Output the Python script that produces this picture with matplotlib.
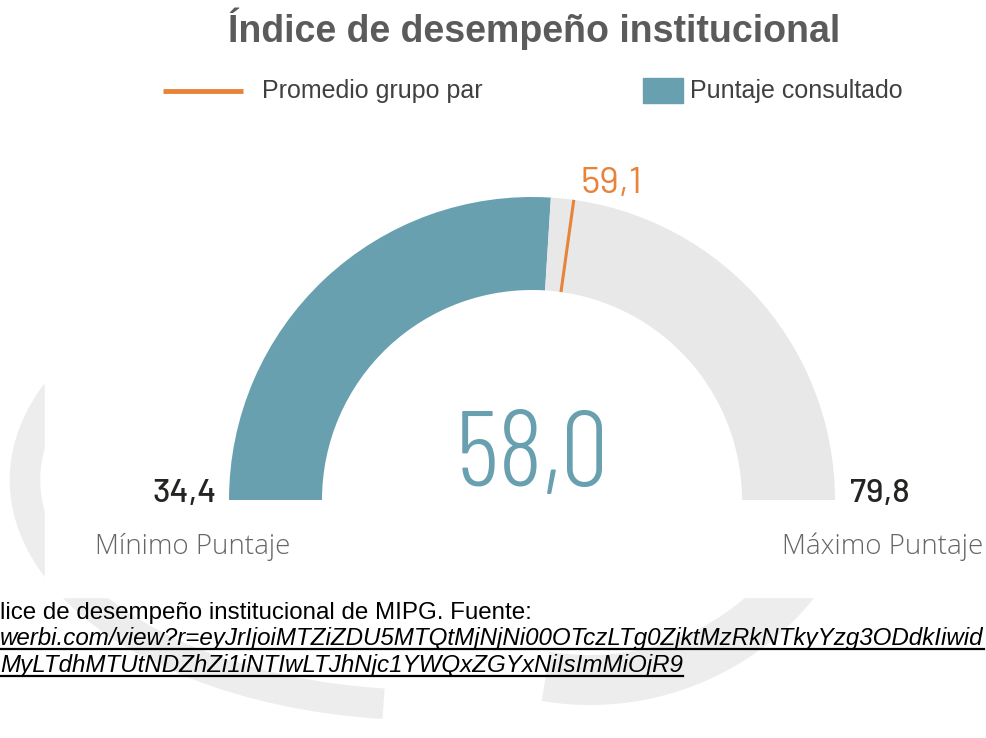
import numpy as np
import matplotlib
matplotlib.use("Agg")
import matplotlib.pyplot as plt
from matplotlib import patches

# data
title = "Índice de desempeño institucional"
legend_labels = ["Promedio grupo par", "Puntaje consultado"]
min_score = 34.4
max_score = 79.8
score = 58.0
peer_avg = 59.1
min_label = "Mínimo Puntaje"
max_label = "Máximo Puntaje"
caption_lines = [
    "lice de desempeño institucional de MIPG. Fuente:",
    "werbi.com/view?r=eyJrIjoiMTZiZDU5MTQtMjNjNi00OTczLTg0ZjktMzRkNTkyYzg3ODdkIiwid",
    "MyLTdhMTUtNDZhZi1iNTIwLTJhNjc1YWQxZGYxNiIsImMiOjR9",
]

def fmt(v):
    return f"{v:.1f}".replace(".", ",")

teal = "#68A0B0"
orange = "#E8833A"
track = "#E8E8E8"
wm = "#EDEDED"

W, H = 987, 738
fig = plt.figure(figsize=(W / 100, H / 100), dpi=100)
ax = fig.add_axes([0, 0, 1, 1])
ax.set_xlim(0, W)
ax.set_ylim(H, 0)
ax.axis("off")

# faint watermark behind the page, partly hidden by the chart image
ax.add_patch(patches.Arc((427, 480), 804, 450, theta1=101, theta2=200,
                         color=wm, lw=22, zorder=0))
ax.add_patch(patches.Arc((590, 425), 520, 510, theta1=15, theta2=100,
                         color=wm, lw=36, zorder=0))
ax.add_patch(patches.Rectangle((45, 0), W - 45, 597, color="white", zorder=1))

# gauge
cx, cy = 532, 500
r_out, r_in = 303, 210

def ang(v):
    return 180 + (v - min_score) / (max_score - min_score) * 180

a_val = ang(score)
ax.add_patch(patches.Wedge((cx, cy), r_out, 180, a_val, width=r_out - r_in,
                           color=teal, lw=0, zorder=2))
ax.add_patch(patches.Wedge((cx, cy), r_out, a_val, 360, width=r_out - r_in,
                           color=track, lw=0, zorder=2))
a_avg = np.radians(ang(peer_avg))
ax.plot([cx + r_in * np.cos(a_avg), cx + r_out * np.cos(a_avg)],
        [cy + r_in * np.sin(a_avg), cy + r_out * np.sin(a_avg)],
        color=orange, lw=2.2, zorder=3, solid_capstyle="butt")

big_font = ["Barlow Condensed", "DejaVu Sans"]
num_font = ["Barlow", "DejaVu Sans"]
light_font = ["Open Sans", "DejaVu Sans"]

ax.text(cx, 486, fmt(score), color=teal, fontsize=77, family=big_font,
        fontweight=300, ha="center", va="baseline", zorder=4)
ax.text(611, 193, fmt(peer_avg), color=orange, fontsize=27, family=num_font,
        fontweight=400, ha="center", va="baseline", zorder=4)
ax.text(217, 502, fmt(min_score), color="#252423", fontsize=24, family=num_font,
        fontweight=500, ha="right", va="baseline", zorder=4)
ax.text(850, 502, fmt(max_score), color="#252423", fontsize=24, family=num_font,
        fontweight=500, ha="left", va="baseline", zorder=4)
ax.text(95, 554, min_label, color="#666666", fontsize=20, family=light_font,
        fontweight=300, ha="left", va="baseline", zorder=4)
ax.text(983, 554, max_label, color="#666666", fontsize=20, family=light_font,
        fontweight=300, ha="right", va="baseline", zorder=4)

# title and legend
ax.text(534, 42, title, color="#5B5B5B", fontsize=27, fontweight="bold",
        family="Liberation Sans", ha="center", va="baseline", zorder=4)
ax.plot([163, 243], [91, 91], color=orange, lw=3.5, zorder=4,
        solid_capstyle="butt")
ax.text(262, 98, legend_labels[0], color="#404040", fontsize=18,
        family="Liberation Sans", ha="left", va="baseline", zorder=4)
ax.add_patch(patches.Rectangle((643, 78), 40, 25, color=teal, zorder=4))
ax.text(690, 98, legend_labels[1], color="#404040", fontsize=18,
        family="Liberation Sans", ha="left", va="baseline", zorder=4)

# caption below the chart
ax.text(0, 619, caption_lines[0], color="black", fontsize=17.4,
        family="Liberation Sans", ha="left", va="baseline", zorder=4)
links = []
for line, yb in zip(caption_lines[1:], [645, 672]):
    links.append(ax.text(0, yb, line, color="black", fontsize=17.4,
                         style="italic", family="Liberation Sans",
                         ha="left", va="baseline", zorder=4))
fig.canvas.draw()
inv = ax.transData.inverted()
for t in links:
    bb = t.get_window_extent()
    x0, _ = inv.transform((bb.x0, bb.y0))
    x1, _ = inv.transform((bb.x1, bb.y0))
    yb = t.get_position()[1] + 4
    ax.plot([x0, min(x1, W)], [yb, yb], color="black", lw=1.6, zorder=4)

fig.savefig("out.png", dpi=100)
